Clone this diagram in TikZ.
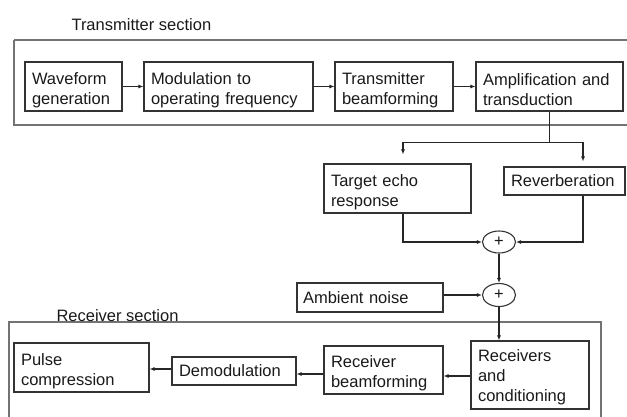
\documentclass[tikz,border=0pt]{standalone}
\usepackage{fontspec}
\setmainfont{Liberation Sans}
\usetikzlibrary{arrows.meta,shapes.geometric,calc}
\newcommand{\topstrut}[1]{\rule{0pt}{#1}}
\begin{document}
\begin{tikzpicture}[x=1pt,y=-1pt,
  every node/.style={font=\fontsize{16.5}{20}\selectfont, text=black!90},
  blk/.style={draw=black!80, line width=1.1pt, align=left, inner xsep=7pt, inner ysep=0pt},
  frm/.style={draw=black!55, line width=1.2pt},
  sumnode/.style={draw=black!80, line width=1.1pt, ellipse, inner sep=0pt, minimum width=33pt, minimum height=22pt},
  arr/.style={draw=black!85, line width=1.1pt, -{Latex[length=5pt,width=4pt]}},
  ln/.style={draw=black!85, line width=1.1pt}]
\useasboundingbox (0,0) rectangle (627,416);
% frames
\draw[frm] (14,40) -- (640,40) (14,40) -- (14,125) -- (640,125);
\draw[frm] (9,430) -- (9,322) -- (601,322) -- (601,430);
\node[anchor=base west] (txlabel) at (68,30) {Transmitter section};
\node[anchor=base west] (rxlabel) at (53,321) {Receiver section};
% transmitter blocks
\node[blk, text width=83pt, minimum height=49pt] (wave) at (73.5,86.5) {\topstrut{19pt}Waveform\\generation};
\node[blk, text width=155pt, minimum height=49pt] (mod) at (228.5,86.5) {\topstrut{19pt}Modulation to\\operating frequency};
\node[blk, text width=104pt, minimum height=49pt] (txbf) at (394,86.5) {\topstrut{19pt}Transmitter\\beamforming};
\node[blk, text width=133pt, minimum height=49pt] (amp) at (549.5,86.5) {\topstrut{19pt}Amplification and\\transduction};
% channel
\node[blk, text width=133pt, minimum height=49pt] (target) at (397.5,188.5) {\topstrut{19pt}Target echo\\response};
\node[blk, text width=107pt, minimum height=28pt] (rev) at (564.5,181) {Reverberation};
\node[sumnode] (sum1) at (499,242) {+};
\node[sumnode, minimum height=23pt] (sum2) at (499,295) {+};
\node[blk, inner xsep=6pt, text width=134pt, minimum height=29pt] (amb) at (370,297.5) {Ambient noise};
% receiver blocks
\node[blk, text width=104pt, minimum height=68pt] (recv) at (530,375) {\topstrut{17pt}Receivers\\and\\conditioning};
\node[blk, text width=105pt, minimum height=48pt] (rxbf) at (383.5,370) {\topstrut{19pt}Receiver\\beamforming};
\node[blk, text width=110pt, minimum height=28pt] (demod) at (234,371) {Demodulation};
\node[blk, text width=121pt, minimum height=49pt] (pulse) at (81.5,367.5) {\topstrut{19pt}Pulse\\compression};
% connectors
\draw[arr] (wave.east) -- (mod.west);
\draw[arr] (mod.east) -- (txbf.west);
\draw[arr] (txbf.east) -- (amp.west);
\draw[ln] (amp.south) -- ++(0,31) coordinate (split);
\draw[arr] (split) -| ([xshift=5.5pt,yshift=9pt]target.north);
\draw[arr] (split) -| ([xshift=18.5pt,yshift=5pt]rev.north);
\draw[arr] ([xshift=5.5pt]target.south) |- (sum1.west);
\draw[arr] ([xshift=18.5pt]rev.south) |- (sum1.east);
\draw[arr] (sum1.south) -- (sum2.north);
\draw[arr] (amb.east |- sum2.west) -- (sum2.west);
\draw[arr] (sum2.south) -- (sum2.south |- recv.north);
\draw[arr] ([yshift=-1pt]recv.west) -- ([yshift=-1pt]recv.west -| rxbf.east);
\draw[arr] (rxbf.west |- 0,374) -- (demod.east |- 0,374);
\draw[arr] ([yshift=2pt]demod.west) -- ([yshift=2pt]demod.west -| pulse.east);
\end{tikzpicture}
\end{document}
